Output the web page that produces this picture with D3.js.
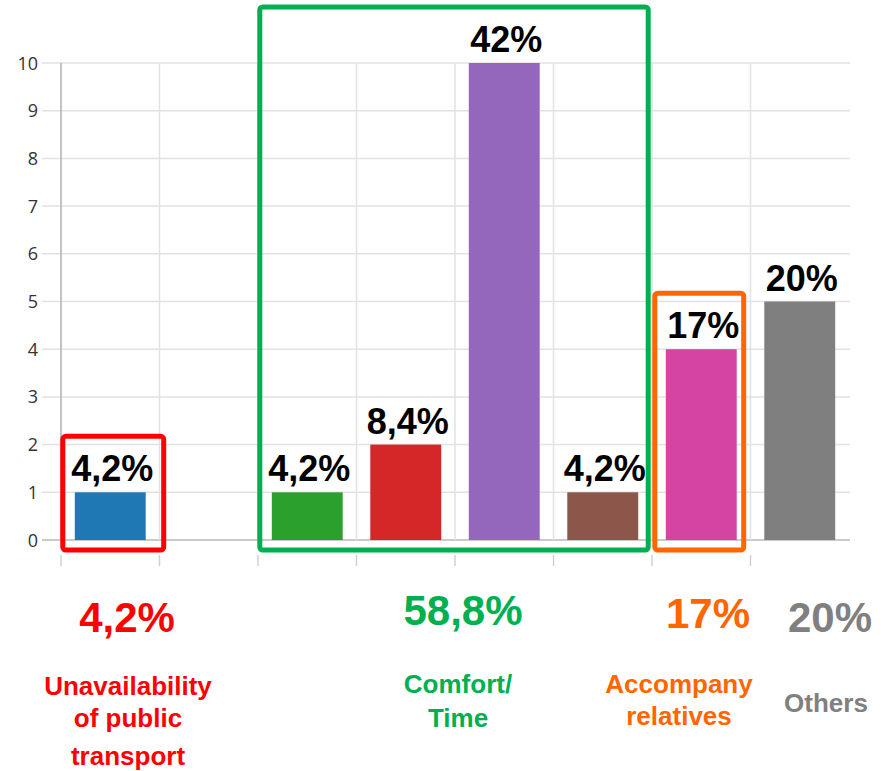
<!DOCTYPE html>
<html>
<head>
<meta charset="utf-8">
<script src="https://cdn.jsdelivr.net/npm/d3@7"></script>
<style>
  body { margin: 0; background: #fff; }
  svg { display: block; }
</style>
</head>
<body>
<div id="chart"></div>
<script>
// bar data (one empty slot between the first two groups)
var barLabels = ["4,2%", "", "4,2%", "8,4%", "42%", "4,2%", "17%", "20%"];
var barValues = [1, null, 1, 2, 10, 1, 4, 5];
var barColors = ["#1f77b4", null, "#2ca02c", "#d62728", "#9467bd", "#8c564b", "#d444a0", "#7f7f7f"];
var yTicks = [0, 1, 2, 3, 4, 5, 6, 7, 8, 9, 10];

// groups shown under the chart
var groupShares = ["4,2%", "58,8%", "17%", "20%"];
var groupNames = [["Unavailability", "of public", "transport"], ["Comfort/", "Time"], ["Accompany", "relatives"], ["Others"]];
var groupColors = ["#ff0000", "#00b050", "#ff6600", "#808080"];
var groupBars = [[0, 0], [2, 5], [6, 6], [7, 7]];
var groupBoxed = [true, true, true, false];

var width = 889, height = 771;
var svg = d3.select("#chart").append("svg")
  .attr("width", width).attr("height", height);

var x = d3.scaleBand()
  .domain(d3.range(barValues.length))
  .range([61, 849])
  .paddingInner(0.28)
  .paddingOuter(0.14);

var y = d3.scaleLinear().domain([0, 10]).range([540, 63]);

var step = x.step();
var bandStart = function(i) { return x.range()[0] + i * step; };

// horizontal grid
svg.append("g").selectAll("line")
  .data(yTicks)
  .enter().append("line")
  .attr("x1", 42).attr("x2", 850)
  .attr("y1", d => y(d)).attr("y2", d => y(d))
  .attr("stroke", d => d == 0 ? "#b8b8b8" : "#e2e2e2")
  .attr("stroke-width", 1.5);

// vertical grid + small ticks under the axis
var vIdx = d3.range(barValues.length);
svg.append("g").selectAll("line")
  .data(vIdx)
  .enter().append("line")
  .attr("x1", d => bandStart(d)).attr("x2", d => bandStart(d))
  .attr("y1", y(10)).attr("y2", y(0))
  .attr("stroke", d => d == 0 ? "#b0b0b0" : "#e2e2e2")
  .attr("stroke-width", 1.5);
svg.append("g").selectAll("line")
  .data(vIdx)
  .enter().append("line")
  .attr("x1", d => bandStart(d)).attr("x2", d => bandStart(d))
  .attr("y1", y(0) + 15).attr("y2", y(0) + 26)
  .attr("stroke", "#d0d0d0")
  .attr("stroke-width", 1.5);

// y tick labels
svg.append("g").selectAll("text")
  .data(yTicks)
  .enter().append("text")
  .attr("x", 38).attr("y", d => y(d) + 6.5)
  .attr("text-anchor", "end")
  .attr("font-family", "'Open Sans', sans-serif")
  .attr("font-size", 18)
  .attr("fill", "#333")
  .text(d => d);

// bars
var idx = d3.range(barValues.length).filter(i => barValues[i] != null);
svg.append("g").selectAll("rect")
  .data(idx)
  .enter().append("rect")
  .attr("x", i => x(i))
  .attr("width", x.bandwidth())
  .attr("y", i => y(barValues[i]))
  .attr("height", i => y(0) - y(barValues[i]))
  .attr("fill", i => barColors[i]);

svg.append("g").selectAll("text")
  .data(idx)
  .enter().append("text")
  .attr("x", i => x(i) + x.bandwidth() / 2 + 2)
  .attr("y", i => y(barValues[i]) - 11)
  .attr("text-anchor", "middle")
  .attr("font-family", "'Liberation Sans', Arial, sans-serif")
  .attr("font-weight", "bold")
  .attr("font-size", 36)
  .attr("fill", "#000")
  .text(i => barLabels[i]);

// group boxes
var boxPad = [[12, 18], [12, 10], [11, 7]];
groupBars.forEach(function(g, k) {
  if (!groupBoxed[k]) return;
  var maxV = d3.max(d3.range(g[0], g[1] + 1), i => barValues[i]);
  var x0 = x(g[0]) - boxPad[k][0];
  var x1 = x(g[1]) + x.bandwidth() + boxPad[k][1];
  var y0 = y(maxV) - 56;
  var y1 = y(0) + 10;
  svg.append("rect")
    .attr("x", x0).attr("y", y0)
    .attr("width", x1 - x0).attr("height", y1 - y0)
    .attr("rx", 3)
    .attr("fill", "none")
    .attr("stroke", groupColors[k])
    .attr("stroke-width", 5);
});

// labels under the chart
var shareX = [127, 463, 708, 830];
var shareY = [632, 625, 628, 632];
var nameX = [128, 458, 679, 826];
var nameY = [[695, 727, 765], [693, 727], [693, 725], [712]];

groupShares.forEach(function(s, k) {
  svg.append("text")
    .attr("x", shareX[k]).attr("y", shareY[k])
    .attr("text-anchor", "middle")
    .attr("font-family", "'Liberation Sans', Arial, sans-serif")
    .attr("font-weight", "bold")
    .attr("font-size", 42)
    .attr("fill", groupColors[k])
    .text(s);

  groupNames[k].forEach(function(line, j) {
    svg.append("text")
      .attr("x", nameX[k]).attr("y", nameY[k][j])
      .attr("text-anchor", "middle")
      .attr("font-family", "'Liberation Sans', Arial, sans-serif")
      .attr("font-weight", "bold")
      .attr("font-size", 26)
      .attr("fill", groupColors[k])
      .text(line);
  });
});
</script>
</body>
</html>
